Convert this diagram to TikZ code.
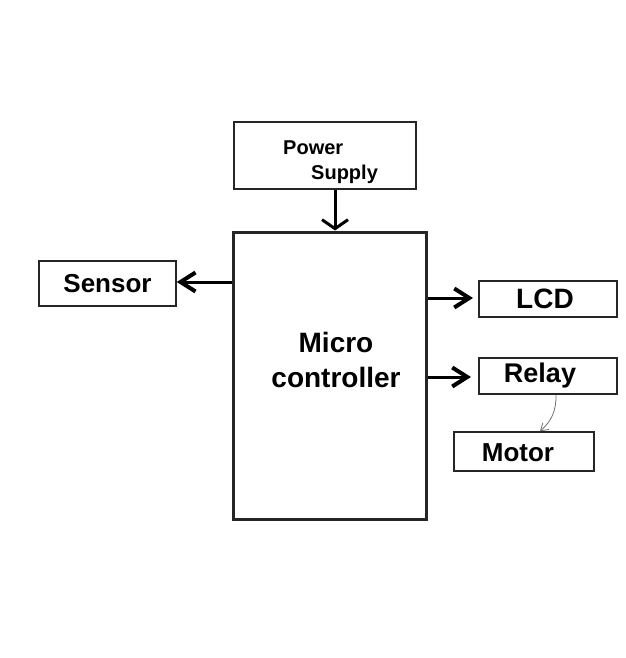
\documentclass[tikz,border=0pt]{standalone}
\usepackage{fontspec}
\setmainfont{Liberation Sans}
\usetikzlibrary{arrows.meta}
\begin{document}
\begin{tikzpicture}[x=1pt,y=-1pt,
  blk/.style={draw=black!85,line width=1.5pt,inner sep=0pt,font=\bfseries},
  lbl/.style={inner sep=0pt,font=\bfseries},
  con/.style={line width=3pt,-{Straight Barb[length=15pt,width=19pt,line width=4pt]}},
  downcon/.style={line width=3pt,-{Straight Barb[length=9pt,width=26pt,line width=3pt]}},
  thin/.style={draw=black!55,line width=0.8pt,-{Straight Barb[length=7pt,width=9pt,line width=0.8pt]}}]
\fill[white] (0,0) rectangle (625,658);
\useasboundingbox (0,0) rectangle (625,658);
% boxes
\node[blk,minimum width=182pt,minimum height=67pt] (ps) at (325,155.5) {};
\node[lbl,font=\bfseries\fontsize{20}{25}\selectfont,align=left,anchor=west] (pst) at (283,162) {Power\\\hspace*{28pt}Supply};
\node[blk,line width=3pt,minimum width=193pt,minimum height=287pt] (mc) at (329.5,375.5) {};
\node[lbl,font=\bfseries\fontsize{28}{35}\selectfont,align=center] (mct) at (336,360) {Micro\\controller};
\node[blk,minimum width=137pt,minimum height=45pt,font=\bfseries\fontsize{26}{28}\selectfont] (sensor) at (107.5,283.5) {Sensor};
\node[blk,minimum width=138pt,minimum height=36pt] (lcd) at (548,299) {};
\node[lbl,font=\bfseries\fontsize{28}{28}\selectfont] (lcdt) at (545,299) {LCD};
\node[blk,minimum width=138pt,minimum height=36pt] (relay) at (548,376) {};
\node[lbl,font=\bfseries\fontsize{27}{28}\selectfont] (relayt) at (540,376) {Relay};
\node[blk,minimum width=140pt,minimum height=39pt] (motor) at (524,451.5) {};
\node[lbl,font=\bfseries\fontsize{26}{28}\selectfont] (motort) at (518,453) {Motor};
% connectors
\draw[downcon] (ps.south -| 335,0) -- (mc.north -| 335,0);
\draw[con] (mc.west |- 0,282) -- (sensor.east |- 0,282);
\coordinate (lcdin) at (473,298);
\coordinate (relayin) at (471,377);
\draw[con] (mc.east |- 0,298) -- (lcdin);
\draw[con] (mc.east |- 0,377) -- (relayin);
\draw[thin] (relay.south -| 556,0) to[bend left=25] (motor.north -| 540,0);
\end{tikzpicture}
\end{document}
